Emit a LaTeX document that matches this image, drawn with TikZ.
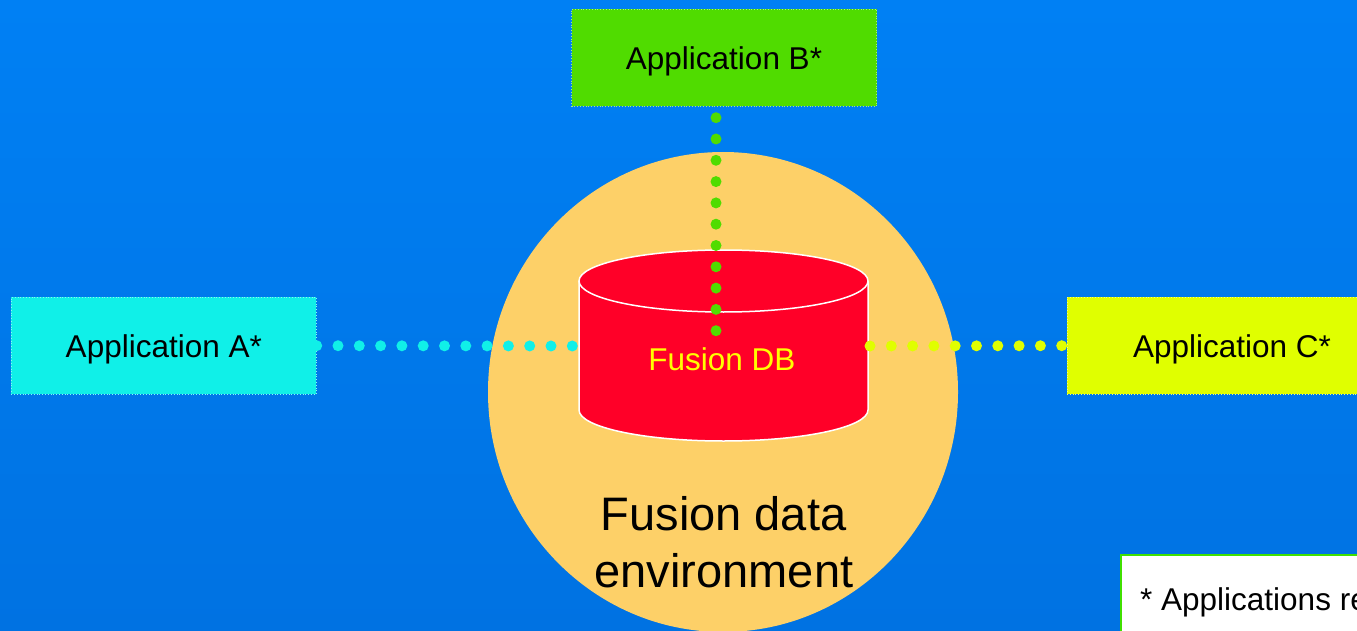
\documentclass[tikz,border=0pt]{standalone}
\usepackage{fontspec}
\setmainfont{Liberation Sans}
\usetikzlibrary{calc,shapes.geometric}
\definecolor{bgtop}{RGB}{0,128,244}
\definecolor{bgbot}{RGB}{0,114,226}
\definecolor{envc}{RGB}{253,208,104}
\definecolor{dbred}{RGB}{255,0,40}
\definecolor{appA}{RGB}{16,240,232}
\definecolor{appB}{RGB}{80,220,0}
\definecolor{appC}{RGB}{224,255,0}
\definecolor{notegreen}{RGB}{64,224,0}
\definecolor{dbtext}{RGB}{255,255,0}
\begin{document}
\begin{tikzpicture}[x=1pt,y=-1pt,
  appbox/.style={draw=#1!50!white, dotted, line width=0.8pt, fill=#1,
    minimum width=305pt, minimum height=97pt, inner sep=0pt,
    text depth=0pt, text=black, font=\fontsize{31.5}{38}\selectfont},
  dotline/.style={draw=#1, line width=11pt, line cap=round,
    dash pattern=on 0pt off 21.3pt},
  bigtext/.style={inner sep=0pt, anchor=base, text=black,
    font=\fontsize{47}{57}\selectfont}]
\useasboundingbox (0,0) rectangle (1357,631);
\clip (0,0) rectangle (1357,631);
\shade[top color=bgtop, bottom color=bgbot] (0,0) rectangle (1357,631);

% environment ellipse
\node[ellipse, fill=envc, minimum width=470pt, minimum height=480pt, inner sep=0pt] (env) at (723,392) {};
\node[bigtext] (envt1) at (723.5,530) {Fusion data};
\node[bigtext] (envt2) at (724,587) {environment};

% database cylinder
\fill[dbred] (579,281) -- (579,410) arc[start angle=180, end angle=0, x radius=144.5, y radius=31] -- (868,281) -- cycle;
\draw[white, line width=1.5pt] (579,281) -- (579,410) arc[start angle=180, end angle=0, x radius=144.5, y radius=31] -- (868,281);
\draw[white, line width=1.5pt, fill=dbred] (723.5,281) ellipse [x radius=144.5, y radius=31];
\node[inner sep=0pt, anchor=base, text=dbtext, font=\fontsize{31.5}{38}\selectfont] (db) at (722,370) {Fusion DB};

% applications
\node[appbox=appA] (A) at (163.8,345.7) {Application A*};
\node[appbox=appB] (B) at (724,57.8) {Application B*};
\node[appbox=appC, minimum width=330pt] (C) at (1232,345.7) {Application C*};

% connectors
\coordinate (dbW) at (576,346);
\coordinate (dbE) at (870,346);
\coordinate (dbN) at (716,334);
\coordinate (Bs) at ($(B.south)+(-8,11)$);
\draw[dotline=appA] (A.east) -- (dbW);
\draw[dotline=appB] (Bs) -- (dbN);
\draw[dotline=appC] (dbE) -- (C.west);

% note box
\node[draw=notegreen, line width=2pt, fill=white, anchor=north west,
  minimum width=400pt, minimum height=150pt] (note) at (1120,554) {};
\node[inner sep=0pt, anchor=base west, text=black, font=\fontsize{31.5}{38}\selectfont] (notetext) at (1140,610) {* Applications re};
\end{tikzpicture}
\end{document}
